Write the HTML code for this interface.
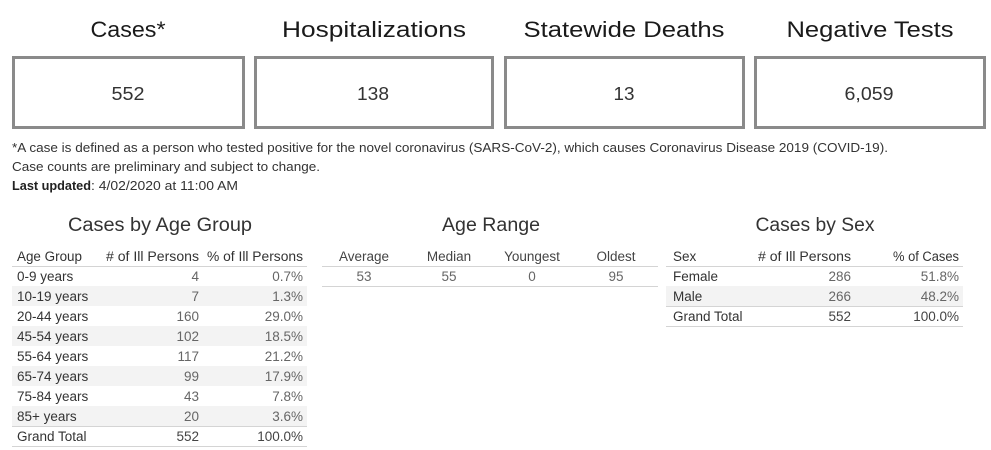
<!DOCTYPE html>
<html><head><meta charset="utf-8"><style>
html,body{margin:0;padding:0;background:#fff;}
svg{display:block;}
text{font-family:"Liberation Sans",sans-serif;}
</style></head><body>
<svg width="991" height="450" viewBox="0 0 991 450" xmlns="http://www.w3.org/2000/svg">
<rect width="991" height="450" fill="#fff"/>
<!-- KPI titles -->
<g fill="#1a1a1a" font-size="22" text-anchor="middle">
<text x="128" y="37" textLength="75" lengthAdjust="spacingAndGlyphs">Cases*</text>
<text x="374" y="37" textLength="184" lengthAdjust="spacingAndGlyphs">Hospitalizations</text>
<text x="624" y="37" textLength="201" lengthAdjust="spacingAndGlyphs">Statewide Deaths</text>
<text x="870" y="37" textLength="167" lengthAdjust="spacingAndGlyphs">Negative Tests</text>
</g>
<!-- KPI boxes -->
<g fill="#fff" stroke="#8a8a8a" stroke-width="3">
<rect x="13.5" y="57.5" width="230" height="70"/>
<rect x="255.5" y="57.5" width="237" height="70"/>
<rect x="505.5" y="57.5" width="238" height="70"/>
<rect x="755.5" y="57.5" width="229" height="70"/>
</g>
<g fill="#333" font-size="18" text-anchor="middle">
<text x="128" y="100" textLength="33" lengthAdjust="spacingAndGlyphs">552</text>
<text x="373" y="100" textLength="32" lengthAdjust="spacingAndGlyphs">138</text>
<text x="624" y="100" textLength="21" lengthAdjust="spacingAndGlyphs">13</text>
<text x="869" y="100" textLength="49" lengthAdjust="spacingAndGlyphs">6,059</text>
</g>
<!-- Footnotes -->
<g fill="#333" font-size="12.5">
<text x="12" y="152" textLength="876" lengthAdjust="spacingAndGlyphs">*A case is defined as a person who tested positive for the novel coronavirus (SARS-CoV-2), which causes Coronavirus Disease 2019 (COVID-19).</text>
<text x="12" y="171" textLength="308" lengthAdjust="spacingAndGlyphs">Case counts are preliminary and subject to change.</text>
<text x="12" y="190" fill="#222" font-weight="bold" textLength="79" lengthAdjust="spacingAndGlyphs">Last updated</text>
<text x="91" y="190" textLength="147" lengthAdjust="spacingAndGlyphs">: 4/02/2020 at 11:00 AM</text>
</g>
<!-- Section titles -->
<g fill="#333" font-size="19" text-anchor="middle">
<text x="160" y="231" textLength="184" lengthAdjust="spacingAndGlyphs">Cases by Age Group</text>
<text x="491" y="231" textLength="98" lengthAdjust="spacingAndGlyphs">Age Range</text>
<text x="815" y="231" textLength="119" lengthAdjust="spacingAndGlyphs">Cases by Sex</text>
</g>
<!-- Age group table -->
<g fill="#f3f3f3">
<rect x="12" y="286" width="295" height="20"/>
<rect x="12" y="326" width="295" height="20"/>
<rect x="12" y="366" width="295" height="20"/>
<rect x="12" y="406" width="295" height="20"/>
</g>
<g stroke="#d4d4d4" stroke-width="1">
<line x1="12" y1="266.5" x2="307" y2="266.5"/>
<line x1="12" y1="426.5" x2="307" y2="426.5"/>
<line x1="12" y1="446.5" x2="307" y2="446.5"/>
</g>
<g font-size="13.5" fill="#333">
<text x="17" y="261" textLength="65" lengthAdjust="spacingAndGlyphs">Age Group</text>
<text x="199" y="261" text-anchor="end" textLength="93" lengthAdjust="spacingAndGlyphs"># of Ill Persons</text>
<text x="303" y="261" text-anchor="end" textLength="96" lengthAdjust="spacingAndGlyphs">% of Ill Persons</text>
<text x="17" y="281">0-9 years</text>
<text x="17" y="301">10-19 years</text>
<text x="17" y="321">20-44 years</text>
<text x="17" y="341">45-54 years</text>
<text x="17" y="361">55-64 years</text>
<text x="17" y="381">65-74 years</text>
<text x="17" y="401">75-84 years</text>
<text x="17" y="421">85+ years</text>
<text x="17" y="441">Grand Total</text>
</g>
<g font-size="13.5" fill="#666" text-anchor="end">
<text x="199" y="281">4</text><text x="303" y="281">0.7%</text>
<text x="199" y="301">7</text><text x="303" y="301">1.3%</text>
<text x="199" y="321">160</text><text x="303" y="321">29.0%</text>
<text x="199" y="341">102</text><text x="303" y="341">18.5%</text>
<text x="199" y="361">117</text><text x="303" y="361">21.2%</text>
<text x="199" y="381">99</text><text x="303" y="381">17.9%</text>
<text x="199" y="401">43</text><text x="303" y="401">7.8%</text>
<text x="199" y="421">20</text><text x="303" y="421">3.6%</text>
<text x="199" y="441" fill="#444">552</text><text x="303" y="441" fill="#444">100.0%</text>
</g>
<!-- Age range table -->
<g stroke="#d4d4d4" stroke-width="1">
<line x1="322" y1="266.5" x2="658" y2="266.5"/>
<line x1="322" y1="286.5" x2="658" y2="286.5"/>
</g>
<g font-size="13.5" fill="#444" text-anchor="middle">
<text x="364" y="261">Average</text>
<text x="449" y="261">Median</text>
<text x="532" y="261">Youngest</text>
<text x="616" y="261">Oldest</text>
</g>
<g font-size="13.5" fill="#666" text-anchor="middle">
<text x="364" y="281">53</text>
<text x="449" y="281">55</text>
<text x="532" y="281">0</text>
<text x="616" y="281">95</text>
</g>
<!-- Sex table -->
<rect x="666" y="286" width="297" height="20" fill="#f3f3f3"/>
<g stroke="#d4d4d4" stroke-width="1">
<line x1="666" y1="266.5" x2="963" y2="266.5"/>
<line x1="666" y1="306.5" x2="963" y2="306.5"/>
<line x1="666" y1="326.5" x2="963" y2="326.5"/>
</g>
<g font-size="13.5" fill="#333">
<text x="673" y="261">Sex</text>
<text x="851" y="261" text-anchor="end" textLength="93" lengthAdjust="spacingAndGlyphs"># of Ill Persons</text>
<text x="959" y="261" text-anchor="end" textLength="66" lengthAdjust="spacingAndGlyphs">% of Cases</text>
<text x="673" y="281">Female</text>
<text x="673" y="301">Male</text>
<text x="673" y="321">Grand Total</text>
</g>
<g font-size="13.5" fill="#666" text-anchor="end">
<text x="851" y="281">286</text><text x="959" y="281">51.8%</text>
<text x="851" y="301">266</text><text x="959" y="301">48.2%</text>
<text x="851" y="321" fill="#444">552</text><text x="959" y="321" fill="#444">100.0%</text>
</g>
</svg>
</body></html>
